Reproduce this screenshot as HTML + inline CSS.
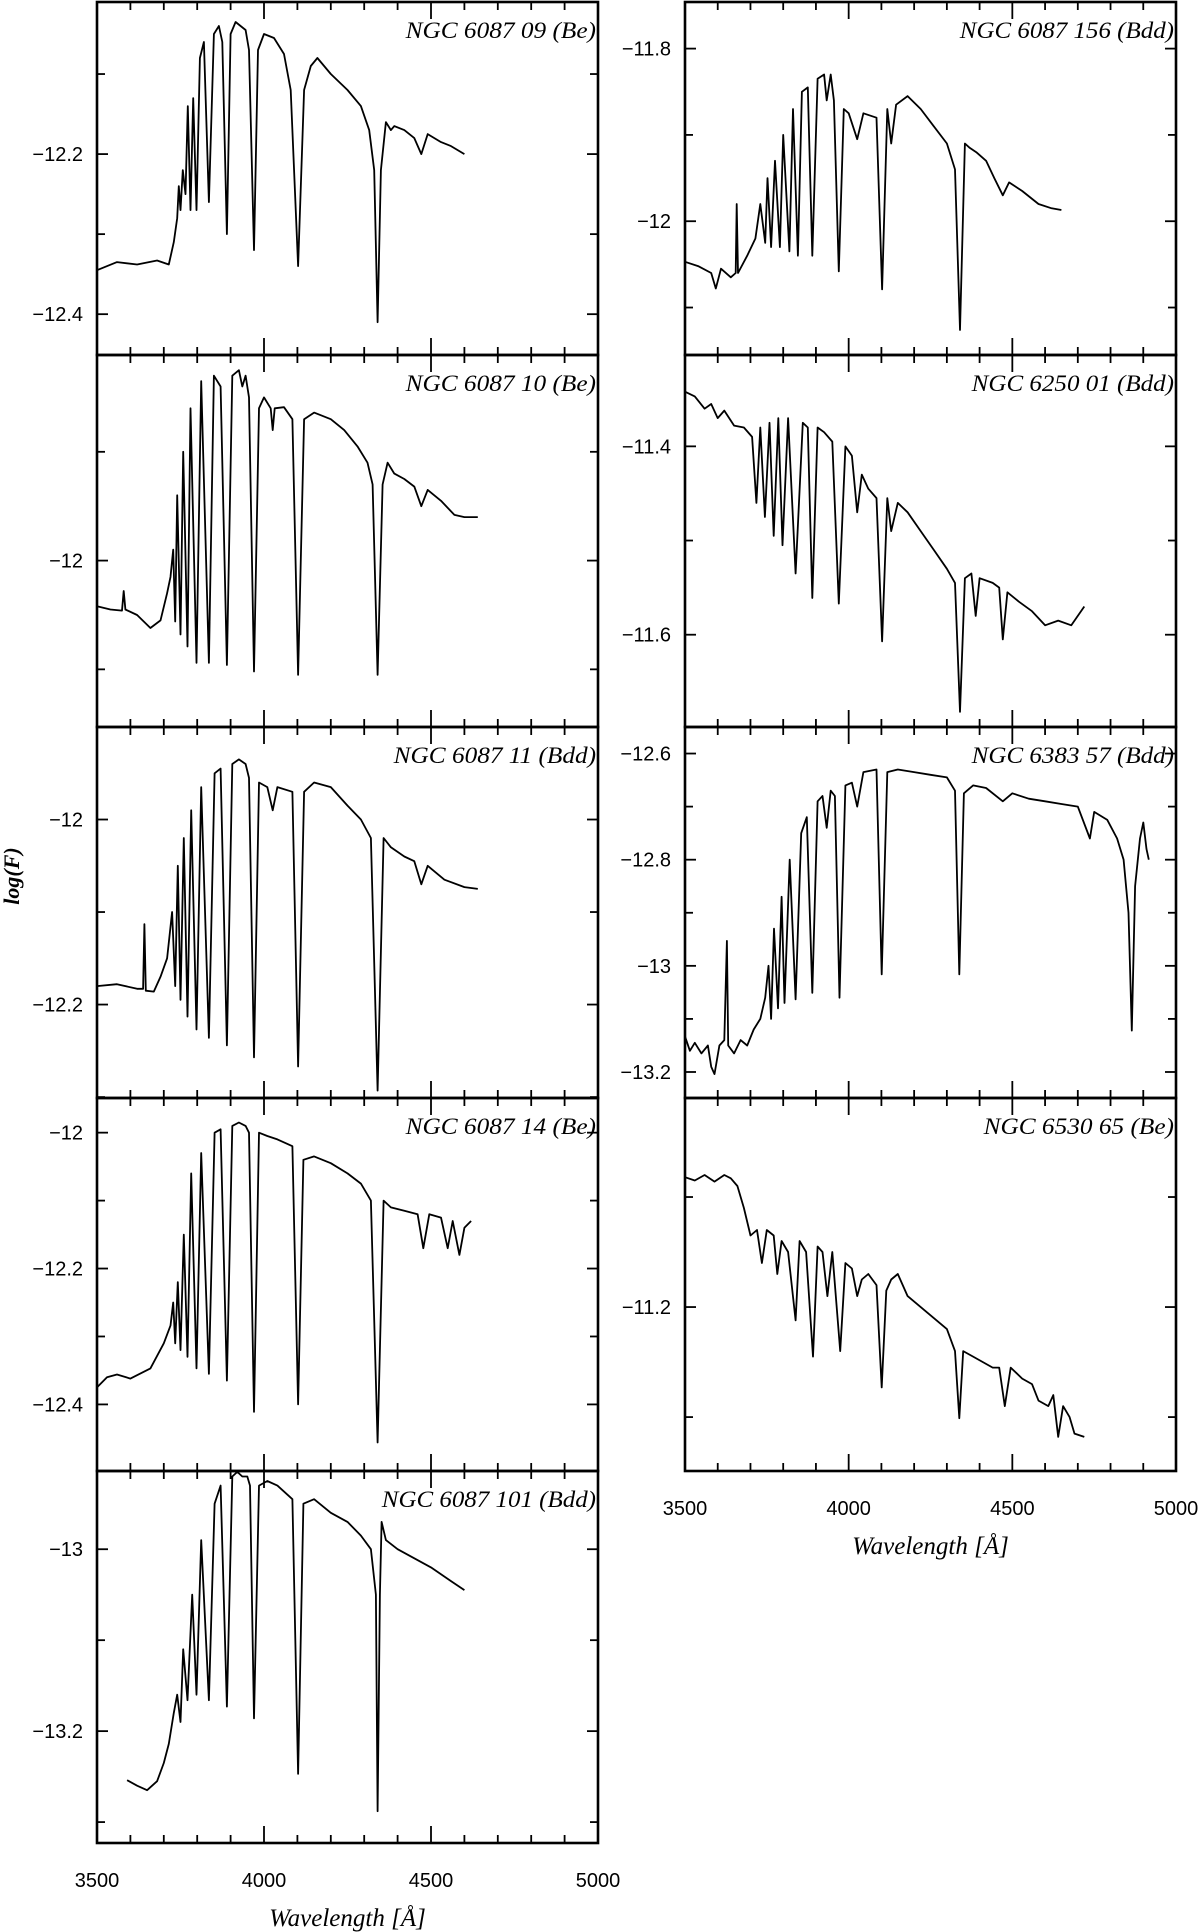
<!DOCTYPE html>
<html><head><meta charset="utf-8">
<style>
html,body{margin:0;padding:0;background:#fff;}
svg{display:block;}
</style></head>
<body>
<svg id="fig" xmlns="http://www.w3.org/2000/svg" width="1200" height="1932" viewBox="0 0 1200 1932"></svg>
<script>
// ===== data =====
const titles = ["NGC 6087 09 (Be)","NGC 6087 10 (Be)","NGC 6087 11 (Bdd)","NGC 6087 14 (Be)","NGC 6087 101 (Bdd)",
                "NGC 6087 156 (Bdd)","NGC 6250 01 (Bdd)","NGC 6383 57 (Bdd)","NGC 6530 65 (Be)"];
const yRanges = [[-12.01,-12.451],[-11.811,-12.153],[-11.90,-12.301],[-11.949,-12.498],[-12.914,-13.323],
                 [-11.746,-12.155],[-11.303,-11.698],[-12.55,-13.249],[-11.010,-11.349]];
const yTickLabels = [["-12.2","-12.4"],["-12"],["-12","-12.2"],["-12","-12.2","-12.4"],["-13","-13.2"],
                     ["-11.8","-12"],["-11.4","-11.6"],["-12.6","-12.8","-13","-13.2"],["-11.2"]];
const xTickLabels = ["3500","4000","4500","5000"];

const wl_L1=[3500,3560,3620,3680,3715,3730,3740,3745,3750,3757,3765,3772,3780,3788,3798,3808,3820,3835,3850,3865,3875,3889,3900,3915,3930,3945,3955,3970,3982,4000,4030,4060,4080,4102,4120,4140,4160,4200,4250,4290,4315,4330,4340,4350,4365,4380,4390,4420,4450,4471,4490,4530,4560,4600];
const fx_L1=[-12.345,-12.335,-12.338,-12.333,-12.338,-12.31,-12.28,-12.24,-12.27,-12.22,-12.25,-12.14,-12.27,-12.13,-12.27,-12.08,-12.06,-12.26,-12.05,-12.04,-12.06,-12.30,-12.05,-12.035,-12.04,-12.045,-12.07,-12.32,-12.07,-12.05,-12.055,-12.075,-12.12,-12.34,-12.12,-12.09,-12.08,-12.10,-12.12,-12.14,-12.17,-12.22,-12.41,-12.22,-12.16,-12.17,-12.165,-12.17,-12.18,-12.20,-12.175,-12.185,-12.19,-12.20];

const wl_L2=[3500,3540,3575,3580,3585,3620,3660,3690,3710,3720,3728,3734,3740,3750,3758,3771,3780,3798,3812,3835,3850,3870,3889,3905,3925,3935,3945,3955,3970,3985,4000,4020,4026,4032,4060,4085,4102,4120,4150,4200,4240,4280,4310,4325,4340,4355,4370,4390,4420,4450,4471,4490,4530,4570,4600,4640];
const fx_L2=[-12.042,-12.045,-12.046,-12.028,-12.045,-12.05,-12.062,-12.055,-12.03,-12.015,-11.99,-12.056,-11.94,-12.068,-11.90,-12.079,-11.86,-12.094,-11.835,-12.094,-11.83,-11.84,-12.096,-11.83,-11.825,-11.84,-11.83,-11.85,-12.102,-11.86,-11.85,-11.86,-11.88,-11.86,-11.859,-11.87,-12.105,-11.87,-11.864,-11.87,-11.88,-11.895,-11.91,-11.93,-12.105,-11.93,-11.91,-11.92,-11.925,-11.932,-11.95,-11.935,-11.945,-11.958,-11.96,-11.96];

const wl_L3=[3500,3560,3620,3638,3642,3646,3670,3690,3710,3725,3734,3742,3750,3760,3771,3782,3798,3812,3835,3852,3870,3889,3905,3925,3945,3955,3970,3985,4010,4026,4040,4085,4102,4120,4150,4200,4250,4290,4320,4340,4358,4380,4420,4450,4471,4490,4540,4600,4640];
const fx_L3=[-12.18,-12.178,-12.183,-12.183,-12.113,-12.185,-12.186,-12.17,-12.15,-12.10,-12.18,-12.05,-12.195,-12.02,-12.213,-11.99,-12.227,-11.965,-12.236,-11.95,-11.945,-12.244,-11.94,-11.935,-11.94,-11.955,-12.257,-11.96,-11.965,-11.99,-11.965,-11.97,-12.267,-11.97,-11.96,-11.965,-11.985,-12.0,-12.02,-12.293,-12.02,-12.03,-12.04,-12.045,-12.07,-12.05,-12.065,-12.073,-12.075];

const wl_L4=[3500,3530,3560,3600,3660,3700,3720,3728,3734,3742,3750,3760,3771,3782,3798,3812,3835,3852,3870,3889,3905,3925,3945,3955,3970,3985,4010,4040,4085,4102,4118,4150,4200,4250,4290,4320,4340,4358,4380,4420,4460,4477,4495,4530,4550,4565,4585,4600,4620];
const fx_L4=[-12.375,-12.36,-12.356,-12.362,-12.347,-12.31,-12.284,-12.25,-12.31,-12.22,-12.32,-12.15,-12.33,-12.06,-12.347,-12.03,-12.355,-12.0,-11.995,-12.365,-11.99,-11.985,-11.99,-12.0,-12.411,-12.0,-12.005,-12.01,-12.02,-12.40,-12.04,-12.035,-12.045,-12.06,-12.075,-12.10,-12.456,-12.10,-12.11,-12.115,-12.12,-12.17,-12.12,-12.125,-12.17,-12.13,-12.18,-12.14,-12.13];

const wl_L5=[3590,3620,3650,3680,3700,3715,3730,3740,3750,3758,3771,3785,3798,3812,3835,3852,3870,3889,3905,3920,3935,3950,3958,3970,3985,4010,4040,4085,4102,4118,4150,4200,4250,4290,4320,4335,4340,4347,4352,4365,4400,4450,4500,4560,4600];
const fx_L5=[-13.254,-13.26,-13.265,-13.255,-13.235,-13.214,-13.18,-13.16,-13.19,-13.11,-13.166,-13.05,-13.16,-12.99,-13.166,-12.95,-12.93,-13.173,-12.92,-12.915,-12.92,-12.92,-12.93,-13.186,-12.93,-12.925,-12.93,-12.945,-13.247,-12.95,-12.945,-12.96,-12.97,-12.985,-13.0,-13.05,-13.288,-13.05,-12.97,-12.99,-13.0,-13.01,-13.02,-13.035,-13.045];

const wl_R1=[3500,3540,3580,3594,3610,3640,3655,3658,3662,3690,3715,3730,3745,3752,3763,3775,3790,3800,3819,3830,3845,3857,3875,3889,3905,3925,3933,3945,3955,3970,3985,4000,4026,4045,4085,4102,4118,4130,4145,4180,4220,4260,4300,4325,4340,4355,4370,4390,4420,4445,4471,4490,4530,4580,4620,4650];
const fx_R1=[-12.047,-12.052,-12.06,-12.078,-12.055,-12.065,-12.06,-11.98,-12.06,-12.04,-12.02,-11.98,-12.025,-11.95,-12.03,-11.93,-12.03,-11.90,-12.035,-11.87,-12.04,-11.85,-11.845,-12.04,-11.835,-11.83,-11.86,-11.83,-11.86,-12.058,-11.87,-11.875,-11.905,-11.875,-11.88,-12.079,-11.87,-11.91,-11.865,-11.855,-11.87,-11.89,-11.91,-11.94,-12.126,-11.91,-11.915,-11.92,-11.93,-11.95,-11.97,-11.955,-11.965,-11.98,-11.985,-11.987];

const wl_R2=[3500,3530,3560,3580,3600,3620,3650,3680,3705,3718,3730,3744,3758,3771,3785,3798,3815,3838,3860,3875,3889,3905,3925,3950,3970,3990,4010,4026,4040,4060,4085,4102,4118,4130,4150,4180,4220,4260,4300,4325,4340,4355,4375,4388,4400,4440,4460,4471,4485,4520,4560,4600,4640,4680,4720];
const fx_R2=[-11.342,-11.347,-11.36,-11.355,-11.37,-11.362,-11.378,-11.38,-11.39,-11.46,-11.38,-11.475,-11.375,-11.495,-11.37,-11.505,-11.37,-11.535,-11.375,-11.38,-11.561,-11.38,-11.385,-11.395,-11.567,-11.40,-11.41,-11.47,-11.43,-11.445,-11.455,-11.607,-11.455,-11.49,-11.46,-11.47,-11.49,-11.51,-11.53,-11.545,-11.682,-11.54,-11.535,-11.58,-11.54,-11.545,-11.55,-11.605,-11.555,-11.565,-11.575,-11.59,-11.585,-11.59,-11.57];

const wl_R3=[3500,3515,3530,3550,3570,3580,3590,3605,3620,3628,3632,3650,3670,3690,3710,3730,3745,3755,3763,3772,3784,3795,3804,3820,3838,3855,3872,3889,3905,3920,3933,3945,3958,3972,3990,4010,4026,4045,4085,4101,4118,4150,4200,4250,4300,4325,4338,4352,4380,4420,4471,4500,4550,4600,4650,4700,4737,4750,4790,4820,4840,4855,4865,4875,4890,4900,4910,4917];
const fx_R3=[-13.133,-13.16,-13.145,-13.165,-13.15,-13.19,-13.204,-13.15,-13.14,-12.953,-13.15,-13.165,-13.14,-13.15,-13.12,-13.10,-13.06,-13.0,-13.10,-12.93,-13.08,-12.87,-13.07,-12.80,-13.063,-12.75,-12.72,-13.051,-12.69,-12.68,-12.74,-12.67,-12.68,-13.06,-12.66,-12.655,-12.70,-12.635,-12.63,-13.016,-12.635,-12.63,-12.635,-12.64,-12.645,-12.67,-13.016,-12.675,-12.66,-12.665,-12.69,-12.675,-12.685,-12.69,-12.695,-12.70,-12.76,-12.71,-12.725,-12.76,-12.80,-12.90,-13.122,-12.85,-12.76,-12.73,-12.78,-12.80];

const wl_R4=[3500,3530,3560,3590,3620,3640,3660,3680,3700,3720,3735,3750,3771,3782,3795,3815,3838,3850,3870,3891,3905,3920,3935,3950,3974,3990,4010,4026,4040,4060,4085,4101,4115,4130,4150,4180,4220,4260,4300,4325,4338,4350,4380,4410,4440,4460,4477,4495,4530,4560,4580,4610,4625,4640,4655,4675,4690,4720];
const fx_R4=[-11.082,-11.085,-11.08,-11.086,-11.08,-11.083,-11.09,-11.11,-11.135,-11.13,-11.16,-11.13,-11.135,-11.17,-11.14,-11.15,-11.212,-11.14,-11.15,-11.245,-11.145,-11.15,-11.19,-11.15,-11.24,-11.16,-11.165,-11.19,-11.175,-11.17,-11.18,-11.273,-11.185,-11.175,-11.17,-11.19,-11.20,-11.21,-11.22,-11.24,-11.301,-11.24,-11.245,-11.25,-11.255,-11.255,-11.29,-11.255,-11.265,-11.27,-11.285,-11.29,-11.28,-11.318,-11.29,-11.30,-11.315,-11.318];

const wlSets=[wl_L1,wl_L2,wl_L3,wl_L4,wl_L5,wl_R1,wl_R2,wl_R3,wl_R4];
const fxSets=[fx_L1,fx_L2,fx_L3,fx_L4,fx_L5,fx_R1,fx_R2,fx_R3,fx_R4];

// ===== layout =====
const NS="http://www.w3.org/2000/svg";
const svg=document.getElementById('fig');
const bounds=[2,355,727,1098,1471,1843];
const cols=[[97,598],[685,1176]];
const serif='"Liberation Serif", serif';
const sans='"Liberation Sans", sans-serif';
function mk(tag,attrs,parent){const e=document.createElementNS(NS,tag);for(const k in attrs)e.setAttribute(k,attrs[k]);(parent||svg).appendChild(e);return e;}

for(let p=0;p<9;p++){
  const col=p<5?0:1, row=p<5?p:p-5;
  const X0=cols[col][0],X1=cols[col][1],Y0=bounds[row],Y1=bounds[row+1];
  const [ft,fb]=yRanges[p];
  const xs=w=>X0+(w-3500)/1500*(X1-X0);
  const ys=f=>Y0+(ft-f)/(ft-fb)*(Y1-Y0);
  const g=mk('g',{});
  
  
  const fr=mk('rect',{x:X0,y:Y0,width:X1-X0,height:Y1-Y0,fill:'none',stroke:'#000','stroke-width':2.6},g);
  
  
  for(let w=3600;w<5000;w+=100){
    const L=(w%500===0)?17:8,x=xs(w);
    const t1=mk('line',{x1:x,y1:Y0,x2:x,y2:Y0+L,stroke:'#000','stroke-width':1.8},g);
    
    
    const t2=mk('line',{x1:x,y1:Y1,x2:x,y2:Y1-L,stroke:'#000','stroke-width':1.8},g);
    
    
  }
  const lo=Math.min(ft,fb),hi=Math.max(ft,fb);
  for(let k=Math.ceil(lo*10-1e-6);k<=Math.floor(hi*10+1e-6);k++){
    const v=k/10,y=ys(v),major=(Math.abs(k)%2===0),L=major?11:8;
    const a=mk('line',{x1:X0,y1:y,x2:X0+L,y2:y,stroke:'#000','stroke-width':1.8},g);
    
    
    const b=mk('line',{x1:X1,y1:y,x2:X1-L,y2:y,stroke:'#000','stroke-width':1.8},g);
    
    
  }
  yTickLabels[p].forEach(s=>{
    const v=parseFloat(s);
    const t=mk('text',{x:X0-14,y:ys(v)+7,'text-anchor':'end','font-family':sans,'font-size':20},g);
    t.textContent=s.replace('-','\u2212');
    
    
  });
  const wl=wlSets[p],fx=fxSets[p];
  let d='';
  for(let i=0;i<wl.length;i++){d+=(i?'L':'M')+xs(wl[i]).toFixed(1)+' '+ys(fx[i]).toFixed(1);}
  const path=mk('path',{d:d,fill:'none',stroke:'#000','stroke-width':1.8,'stroke-linejoin':'round'},g);
  
  
  const tw=titles[p].length*11.9;
  const tt=mk('text',{x:X1-2-tw,y:Y0+36,'font-family':serif,'font-style':'italic','font-size':23,textLength:tw,lengthAdjust:'spacingAndGlyphs'},g);
  tt.textContent=titles[p];
  
  
  if((col===0&&row===4)||(col===1&&row===3)){
    xTickLabels.forEach(s=>{
      const t=mk('text',{x:xs(+s),y:Y1+44,'text-anchor':'middle','font-family':sans,'font-size':20},g);
      t.textContent=s;
      
      
    });
    const xl=mk('text',{x:(X0+X1)/2,y:Y1+83,'text-anchor':'middle','font-family':serif,'font-style':'italic','font-size':25},g);
    xl.textContent='Wavelength [Å]';
    
    
  }
}
const yl=mk('text',{x:0,y:0,transform:'translate(19,876) rotate(-90)','text-anchor':'middle','font-family':serif,'font-style':'italic','font-weight':'bold','font-size':22});
yl.textContent='log(F)';


</script>
</body></html>
